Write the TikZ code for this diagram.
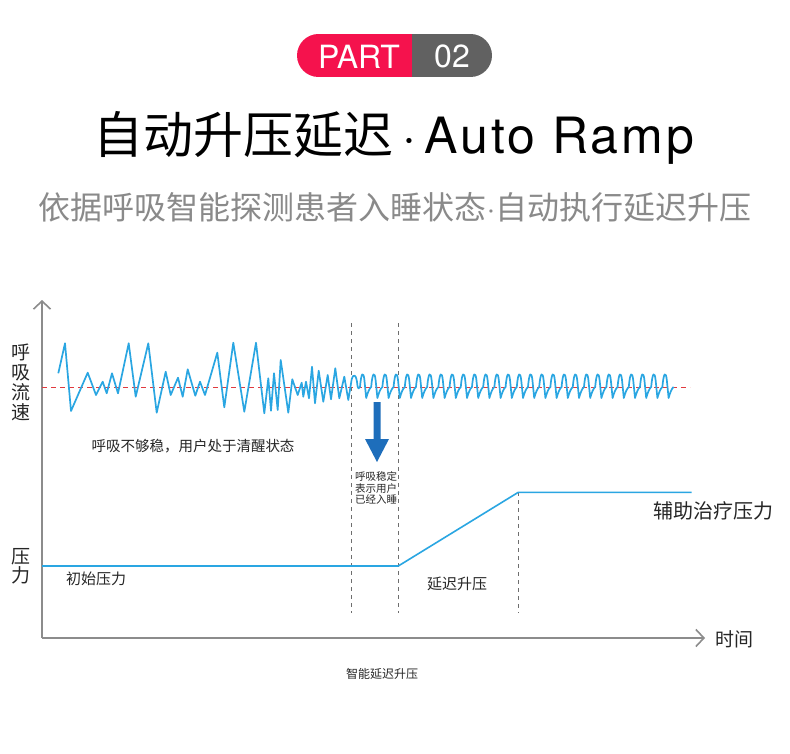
\documentclass[tikz,border=0pt]{standalone}
\usepackage{fontspec}
\setmainfont{Noto Sans CJK SC}
\newfontfamily\latinfont{TeX Gyre Heros}
\newfontfamily\latinwide[LetterSpace=6]{TeX Gyre Heros}
\usetikzlibrary{arrows.meta}
\definecolor{badgered}{HTML}{F5124D}
\definecolor{badgegray}{HTML}{616161}
\definecolor{waveblue}{HTML}{2AA6E2}
\definecolor{arrowblue}{HTML}{1E6EBB}
\definecolor{reddash}{HTML}{E0393E}
\definecolor{axisgray}{HTML}{8C8C8C}
\definecolor{dashgray}{HTML}{6E6E6E}
\definecolor{subgray}{HTML}{8A8A8A}
\definecolor{txtdark}{HTML}{262626}
\newcommand\myfs[1]{\fontsize{#1}{#1}\selectfont}
\tikzset{
  lbl/.style={inner sep=0pt, text=txtdark},
  axisline/.style={draw=axisgray, line width=1.8pt, -{Straight Barb[length=8pt,width=17pt,line width=1.6pt]}},
  guide/.style={draw=dashgray, line width=1.2pt, dash pattern=on 4pt off 4pt},
  wave/.style={draw=waveblue, line width=1.7pt, line join=round},
  press/.style={draw=waveblue, line width=1.6pt, line join=round},
}
\begin{document}
\begin{tikzpicture}[x=1pt,y=-1pt]
\useasboundingbox (0,0) rectangle (790,754);
\fill[white] (0,0) rectangle (790,754);

% badge
\begin{scope}
  \clip[rounded corners=21.5pt] (297,34) rectangle (492,77);
  \fill[badgered] (297,34) rectangle (412,77);
  \fill[badgegray] (412,34) rectangle (492,77);
\end{scope}
\node[inner sep=0pt, text=white, font=\latinfont\myfs{32}] (part) at (359,56.5) {PART};
\node[inner sep=0pt, text=white, font=\latinfont\myfs{32}] (num) at (452,56.5) {02};

% title & subtitle
\node[inner sep=0pt, text=black, font=\myfs{50}] (title) at (394,138) {自动升压延迟{\latinfont\,·\,}{\latinwide Auto Ramp}};
\node[inner sep=0pt, text=subgray, font=\myfs{32}] (subtitle) at (395,207) {依据呼吸智能探测患者入睡状态{\latinfont·}自动执行延迟升压};

% axes
\coordinate (O) at (42,638);
\coordinate (ytop) at (42,300);
\coordinate (xend) at (705,638);
\draw[axisline] (O) -- (ytop);
\draw[axisline] (O) -- (xend);

% axis labels
\node[lbl, align=center, font=\fontsize{19}{20}\selectfont] (flow) at (21,382) {呼\\吸\\流\\速};
\node[lbl, align=center, font=\fontsize{19}{19}\selectfont] (plabel) at (21,566) {压\\力};
\node[lbl, font=\myfs{19}] (time) at (734,639) {时间};

% reference baseline
\coordinate (bl0) at (42,387);
\coordinate (bl1) at (690,387);
\draw[reddash, line width=1pt, dash pattern=on 5pt off 4pt] (bl0) -- (bl1);

% vertical guides
\coordinate (g1t) at (351.5,323);
\coordinate (g1b) at (351.5,613);
\coordinate (g2t) at (398.3,323);
\coordinate (g2b) at (398.3,613);
\coordinate (g3b) at (518.3,613);

% pressure curve
\coordinate (p0) at (42,566);
\coordinate (p1) at (398.3,566);
\coordinate (p2) at (518.3,492.3);
\coordinate (p3) at (691.7,492.3);

\draw[guide] (g1t) -- (g1b);
\draw[guide] (g2t) -- (g2b);
\draw[guide] (p2) -- (g3b);

\draw[press] (p0) -- (p1) -- (p2) -- (p3);

% irregular breathing
\draw[wave] (58.3,373.3) -- (65,343.3) -- (71,411) -- (87.7,372.7) -- (96,395) -- (102.7,381.7) -- (106.7,393.3) -- (112,373.3) -- (118,393.3) -- (128.7,343.3) -- (135.7,396.7) -- (148.3,343.3) -- (156.7,412.7) -- (165.7,371.7) -- (170.7,395) -- (178,377.7) -- (182.7,396.7) -- (187.7,369.3) -- (195.3,395.7) -- (200,381.7) -- (205,395) -- (217.3,352.7) -- (224.3,407.3) -- (233.3,342.7) -- (244.3,411.7) -- (256,342.7) -- (264.3,413.3) -- (268.3,378.3) -- (271,410.7) -- (274,373.3) -- (277.7,410) -- (280.7,360) -- (288.3,412.7) -- (292.3,379.3) -- (297.7,395) -- (301.7,382.7) -- (303.3,396.7) -- (306,381.7) -- (309,398.3) -- (312,366.7) -- (315,403.3) -- (318.7,370.7) -- (323.3,401.7) -- (327.7,375) -- (331,399.3) -- (335.3,368.3) -- (339.3,398.3) -- (344.3,376.7) -- (348.3,400) -- (351.7,379.3)
  .. controls (353.5,373) and (356.5,374) .. (357.5,386) .. controls (358.5,389) .. (360,387)
  \foreach \i in {0,...,27} {
    .. controls ({360+11.2*\i+1.2},372) and ({360+11.2*\i+3.4},371) .. ({360+11.2*\i+4.4},380)
    -- ({360+11.2*\i+6.2},398)
    .. controls ({360+11.2*\i+7.5},393) and ({360+11.2*\i+9.5},388) .. ({360+11.2*\i+11.2},387)
  };

% texts
\node[lbl, font=\myfs{14.5}] (awake) at (193,446) {呼吸不够稳，用户处于清醒状态};
\fill[arrowblue] (373.5,402) -- (380.5,402) -- (380.5,439) -- (389,439) -- (377,462) -- (365,439) -- (373.5,439) -- cycle;
\node[lbl, align=center, font=\fontsize{10.5}{11.5}\selectfont] (asleep) at (376,488) {呼吸稳定\\表示用户\\已经入睡};
\node[lbl, font=\myfs{15}] (init) at (96,579) {初始压力};
\node[lbl, font=\myfs{15}] (delay) at (457,584) {延迟升压};
\node[lbl, font=\myfs{20}] (assist) at (713,511) {辅助治疗压力};
\node[lbl, font=\myfs{12}] (caption) at (382,674) {智能延迟升压};
\end{tikzpicture}
\end{document}
